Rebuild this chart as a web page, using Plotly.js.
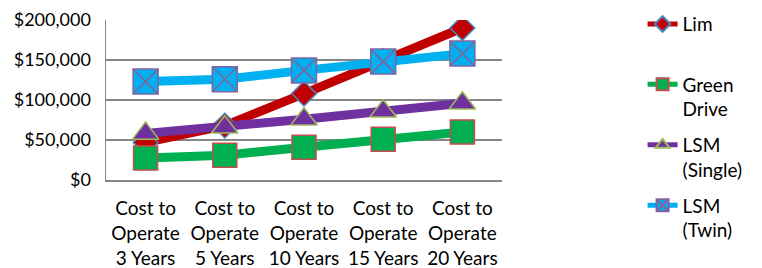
<!DOCTYPE html>
<html>
<head>
<meta charset="utf-8">
<script src="https://cdn.plot.ly/plotly-3.0.1.min.js"></script>
<style>html,body{margin:0;padding:0;background:#fff;}#chart{width:762px;height:268px;}</style>
</head>
<body>
<div id="chart"></div>
<script>
const categories = ["Cost to<br>Operate<br>3 Years", "Cost to<br>Operate<br>5 Years", "Cost to<br>Operate<br>10 Years", "Cost to<br>Operate<br>15 Years", "Cost to<br>Operate<br>20 Years"];
const seriesNames = ["Lim<br> ", "Green<br>Drive", "LSM<br>(Single)", "LSM<br>(Twin)"];
const limValues = [47000, 68000, 108000, 149000, 190000];
const greenDriveValues = [27500, 31000, 41000, 51000, 60000];
const lsmSingleValues = [58000, 66000, 76000, 86000, 96000];
const lsmTwinValues = [123000, 126000, 137000, 148000, 158000];

const styles = [
  {line: '#C00000', fill: '#C00000', edge: '#4F81BD', symbol: 'diamond', size: 19},
  {line: '#00B050', fill: '#00B050', edge: '#C0504D', symbol: 'square', size: 24},
  {line: '#7030A0', fill: '#7030A0', edge: '#9BBB59', symbol: 'triangle-up', size: 23},
  {line: '#00B0F0', fill: '#00B0F0', edge: '#8064A2', symbol: 'square-x', size: 25}
];
const allValues = [limValues, greenDriveValues, lsmSingleValues, lsmTwinValues];

const traces = allValues.map((vals, i) => ({
  type: 'scatter',
  mode: 'lines+markers',
  x: categories,
  y: vals,
  name: seriesNames[i],
  legendgroup: 'g' + i,
  line: {color: styles[i].line, width: 9},
  marker: {symbol: styles[i].symbol, size: styles[i].size, color: styles[i].fill,
           line: {color: styles[i].edge, width: 1.5}}
}));

const layout = {
  width: 762, height: 268,
  margin: {l: 106, r: 260, t: 20, b: 88, autoexpand: false},
  paper_bgcolor: '#fff', plot_bgcolor: '#fff',
  font: {family: 'Lato, Carlito, sans-serif', size: 18, color: '#000'},
  showlegend: true,
  legend: {
    x: 1.355, xanchor: 'left', y: 1.093, yanchor: 'top',
    font: {family: 'Lato, sans-serif', size: 19, color: '#000'},
    valign: 'top', traceorder: 'grouped', tracegroupgap: 8,
    itemsizing: 'constant', bgcolor: 'rgba(0,0,0,0)', maxheight: 600
  },
  xaxis: {
    type: 'category', range: [-0.5, 4.5], automargin: false,
    showgrid: false, zeroline: false,
    showline: true, linecolor: '#868686', linewidth: 1.5,
    ticks: '', ticklabelstandoff: 11, tickfont: {size: 19}, fixedrange: true
  },
  yaxis: {
    range: [0, 200000], dtick: 50000, tick0: 0, automargin: false,
    tickprefix: '$', tickformat: ',.0f',
    showgrid: true, gridcolor: '#868686', gridwidth: 1.5,
    zeroline: false, showline: true, linecolor: '#868686', linewidth: 1.5,
    ticks: '', ticklabelstandoff: 10, tickfont: {size: 18}, fixedrange: true
  }
};

Plotly.newPlot('chart', traces, layout, {displayModeBar: false, staticPlot: true});
</script>
</body>
</html>
